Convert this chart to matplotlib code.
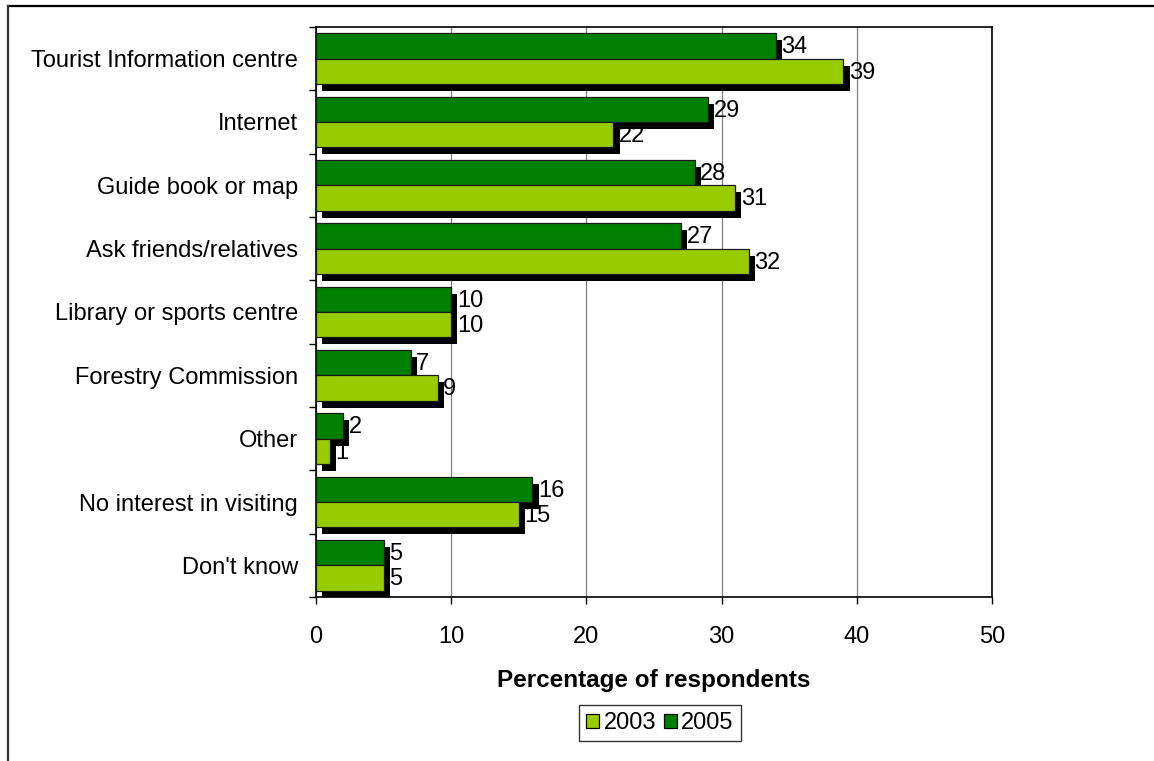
import matplotlib
matplotlib.use("Agg")
import matplotlib.pyplot as plt
import matplotlib.patheffects as pe
from matplotlib.patches import Rectangle
import numpy as np

categories = [
    "Tourist Information centre",
    "Internet",
    "Guide book or map",
    "Ask friends/relatives",
    "Library or sports centre",
    "Forestry Commission",
    "Other",
    "No interest in visiting",
    "Don't know",
]
values_2003 = [39, 22, 31, 32, 10, 9, 1, 15, 5]
values_2005 = [34, 29, 28, 27, 10, 7, 2, 16, 5]
series_labels = ["2003", "2005"]
x_ticks = [0, 10, 20, 30, 40, 50]

LIGHT = "#99CC00"
DARK = "#008000"
FS = 17
plt.rcParams["font.family"] = ["Liberation Sans", "DejaVu Sans"]

fig = plt.figure(figsize=(11.54, 7.61), dpi=100)
W, H = 1154, 761
ax = fig.add_axes([316 / W, 1 - 597 / H, (992 - 316) / W, (597 - 27) / H])

# outer chart frame (only top and left edges visible in the crop)
fig.add_artist(plt.Line2D([8 / W, 1], [1 - 6 / H, 1 - 6 / H], color="#000000",
                          lw=1.6, transform=fig.transFigure))
fig.add_artist(plt.Line2D([8 / W, 8 / W], [0, 1 - 6 / H], color="#333333",
                          lw=1.6, transform=fig.transFigure))

y = np.arange(len(categories))
h = 0.4
shadow = [pe.SimplePatchShadow(offset=(4.5, -5), shadow_rgbFace="black", alpha=1.0), pe.Normal()]

bars05 = ax.barh(y - h / 2, values_2005, height=h, color=DARK, edgecolor="#1a1a1a",
                 linewidth=0.9, zorder=3, label=series_labels[1])
bars03 = ax.barh(y + h / 2, values_2003, height=h, color=LIGHT, edgecolor="#1a1a1a",
                 linewidth=0.9, zorder=3, label=series_labels[0])
for b in list(bars05) + list(bars03):
    b.set_path_effects(shadow)

for bars, vals in ((bars05, values_2005), (bars03, values_2003)):
    for b, v in zip(bars, vals):
        ax.annotate(f"{v}", (v, b.get_y() + b.get_height() / 2), xytext=(4.0, -1),
                    textcoords="offset points", va="center", ha="left",
                    fontsize=FS, color="black", zorder=5)

ax.set_xlim(0, 50)
ax.set_ylim(len(categories) - 0.5, -0.5)
ax.set_xticks(x_ticks)
ax.set_xticklabels([str(t) for t in x_ticks], fontsize=FS)
ax.tick_params(axis="x", direction="out", length=5, width=1, pad=16)

ax.set_yticks(np.arange(len(categories) + 1) - 0.5)
ax.set_yticklabels([])
ax.tick_params(axis="y", which="major", direction="out", length=5, width=1)
ax.set_yticks(y, minor=True)
ax.set_yticklabels(categories, minor=True, fontsize=FS)
ax.tick_params(axis="y", which="minor", length=0, pad=13)

ax.grid(axis="x", color="#808080", linewidth=0.9, zorder=0)
ax.set_axisbelow(True)
for s in ax.spines.values():
    s.set_color("black")
    s.set_linewidth(1.2)

ax.set_xlabel("Percentage of respondents", fontsize=17.5, fontweight="bold", labelpad=15)

handles = [Rectangle((0, 0), 1, 1, facecolor=LIGHT, edgecolor="black", lw=0.9),
           Rectangle((0, 0), 1, 1, facecolor=DARK, edgecolor="black", lw=0.9)]
leg = fig.legend(handles, series_labels, loc="center", bbox_to_anchor=(660 / W, 1 - 723 / H),
                 ncol=2, frameon=True, fancybox=False, fontsize=FS,
                 handlelength=0.55, handleheight=0.55, handletextpad=0.2,
                 columnspacing=0.3, borderpad=0.3)
leg.get_frame().set_edgecolor("black")
leg.get_frame().set_linewidth(1.0)

fig.savefig("out.png", dpi=100, facecolor="white")
